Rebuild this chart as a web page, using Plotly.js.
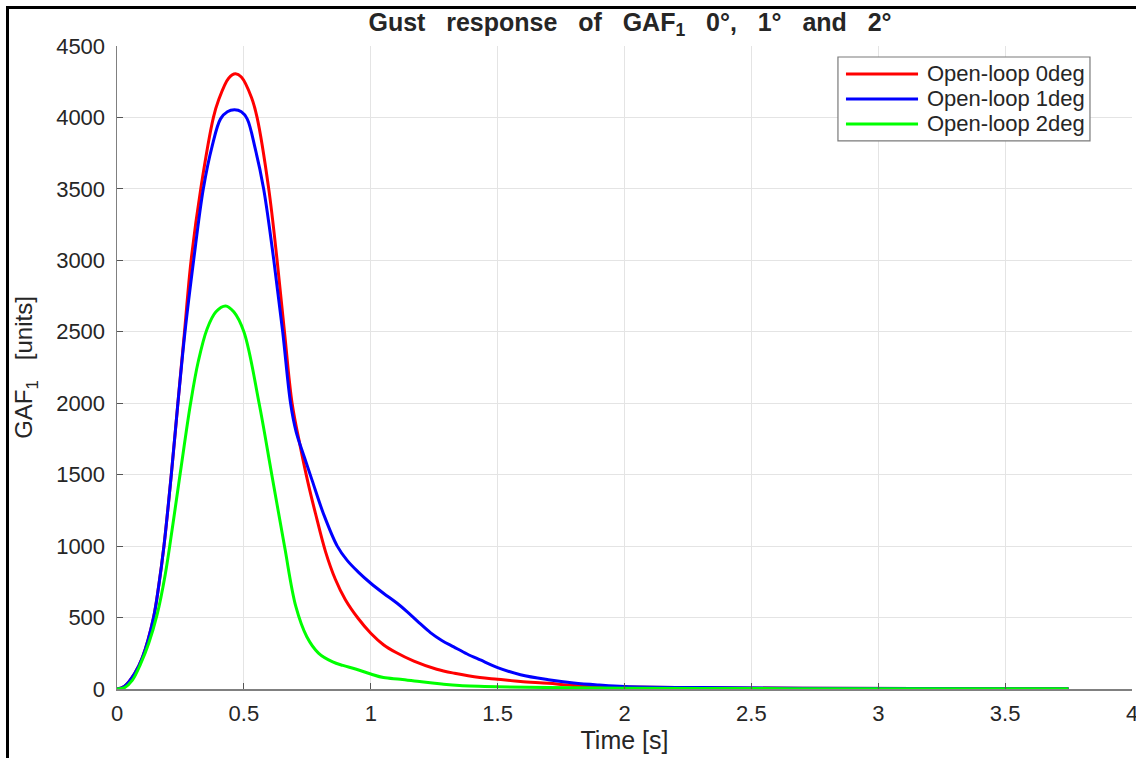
<!DOCTYPE html>
<html>
<head>
<meta charset="utf-8">
<script src="https://cdn.plot.ly/plotly-3.0.1.min.js"></script>
<style>
  html, body { margin: 0; padding: 0; background: #fff; }
  #wrap { position: relative; width: 1136px; height: 758px; overflow: hidden; }
  #chart { width: 1136px; height: 758px; }
  #frame { position: absolute; left: 6px; top: 6px; width: 1200px; height: 800px;
           border-top: 3px solid #000; border-left: 3px solid #000; pointer-events: none; }
</style>
</head>
<body>
<div id="wrap"><div id="chart"></div><div id="frame"></div></div>
<script>
// Open-loop 0deg (red)
const tRed = [0, 0.03, 0.07, 0.1, 0.144, 0.165, 0.185, 0.214, 0.24, 0.266, 0.292, 0.33, 0.38, 0.40, 0.44, 0.467, 0.49, 0.53, 0.552, 0.598, 0.631, 0.66, 0.69, 0.722, 0.752, 0.782, 0.822, 0.86, 0.9, 0.95, 1.0, 1.05, 1.1, 1.17, 1.26, 1.33, 1.43, 1.5, 1.59, 1.7, 1.8, 2.0, 2.3, 2.7, 3.2, 3.75];
const vRed = [0, 20, 110, 220, 500, 730, 1000, 1500, 2000, 2500, 3000, 3500, 4000, 4120, 4275, 4305, 4283, 4140, 4000, 3500, 3000, 2500, 2000, 1700, 1450, 1230, 960, 770, 625, 495, 390, 310, 255, 195, 138, 110, 80, 68, 52, 40, 25, 14, 8, 5, 3, 2];
// Open-loop 1deg (blue)
const tBlue = [0, 0.03, 0.07, 0.1, 0.144, 0.165, 0.185, 0.214, 0.24, 0.268, 0.302, 0.34, 0.375, 0.408, 0.435, 0.463, 0.49, 0.513, 0.545, 0.578, 0.618, 0.653, 0.684, 0.706, 0.735, 0.769, 0.815, 0.868, 0.907, 0.95, 1.0, 1.05, 1.104, 1.144, 1.19, 1.235, 1.28, 1.327, 1.38, 1.432, 1.5, 1.59, 1.7, 1.8, 1.9, 2.0, 2.3, 2.7, 3.2, 3.75];
const vBlue = [0, 20, 110, 220, 500, 730, 1000, 1500, 2000, 2500, 3000, 3500, 3800, 3990, 4040, 4053, 4040, 3990, 3780, 3500, 3000, 2500, 2000, 1800, 1640, 1460, 1220, 1000, 900, 820, 740, 670, 600, 540, 465, 395, 340, 295, 245, 203, 150, 100, 65, 42, 28, 18, 10, 6, 3, 2];
// Open-loop 2deg (green)
const tGreen = [0, 0.03, 0.06, 0.093, 0.125, 0.158, 0.19, 0.22, 0.25, 0.29, 0.32, 0.355, 0.39, 0.428, 0.46, 0.5, 0.56, 0.61, 0.66, 0.705, 0.748, 0.795, 0.85, 0.89, 0.94, 1.0, 1.05, 1.117, 1.2, 1.28, 1.35, 1.5, 1.7, 2.0, 2.5, 3.0, 3.75];
const vGreen = [0, 10, 60, 175, 320, 520, 800, 1150, 1520, 2000, 2290, 2520, 2640, 2681, 2640, 2500, 2000, 1500, 1000, 576, 366, 250, 190, 165, 140, 105, 80, 68, 50, 35, 25, 16, 10, 5, 3, 2, 1];

const seriesNames = ["Open-loop 0deg", "Open-loop 1deg", "Open-loop 2deg"];
const seriesColors = ['#ff0000', '#0000ff', '#00ff00'];
const xTicks = [0, 0.5, 1, 1.5, 2, 2.5, 3, 3.5, 4];
const yTicks = [0, 500, 1000, 1500, 2000, 2500, 3000, 3500, 4000, 4500];

const FONT = '"Liberation Sans", Arial, Helvetica, sans-serif';
const mk = (x, y, name, color) => ({
  x: x, y: y, name: name, type: 'scatter', mode: 'lines',
  line: { color: color, width: 3, shape: 'spline', smoothing: 1 }
});

const data = [
  mk(tRed, vRed, seriesNames[0], seriesColors[0]),
  mk(tBlue, vBlue, seriesNames[1], seriesColors[1]),
  mk(tGreen, vGreen, seriesNames[2], seriesColors[2])
];

const axisCommon = {
  showline: true, linecolor: '#808080', linewidth: 1.5,
  showgrid: true, gridcolor: '#e4e4e4', gridwidth: 1,
  zeroline: false, ticks: 'inside', ticklen: 6, tickcolor: '#555',
  tickfont: { family: FONT, size: 22, color: '#262626' },
  ticklabeloverflow: 'allow',
  mirror: false
};

// Legend drawn as a box in paper coordinates
const legBox = { x0: 0.7103, x1: 0.9586, y0: 0.8523, y1: 0.9829 };
const legRowsY = [0.9565, 0.9176, 0.8787];
const shapes = [{
  type: 'rect', xref: 'paper', yref: 'paper', layer: 'above',
  x0: legBox.x0, x1: legBox.x1, y0: legBox.y0, y1: legBox.y1,
  fillcolor: '#ffffff', line: { color: '#7a7a7a', width: 1.2 }
}];
const annotations = [];
seriesNames.forEach((n, i) => {
  shapes.push({
    type: 'line', xref: 'paper', yref: 'paper', layer: 'above',
    x0: 0.7182, x1: 0.7892, y0: legRowsY[i], y1: legRowsY[i],
    line: { color: seriesColors[i], width: 3 }
  });
  annotations.push({
    xref: 'paper', yref: 'paper', x: 0.7961, y: legRowsY[i],
    xanchor: 'left', yanchor: 'middle', showarrow: false, text: n,
    font: { family: FONT, size: 22, color: '#262626' }
  });
});

const layout = {
  width: 1136, height: 758,
  margin: { l: 117, r: 4, t: 46, b: 69 },
  paper_bgcolor: '#fff', plot_bgcolor: '#fff',
  font: { family: FONT, color: '#262626' },
  title: {
    text: '<b>Gust&nbsp;&nbsp; response&nbsp;&nbsp; of&nbsp;&nbsp; GAF<sub>1</sub>&nbsp;&nbsp; 0°,&nbsp;&nbsp; 1°&nbsp;&nbsp; and&nbsp;&nbsp; 2°</b>',
    font: { family: FONT, size: 25, color: '#262626' },
    x: 0.5546, xanchor: 'center', y: 0.971, yanchor: 'middle'
  },
  xaxis: Object.assign({}, axisCommon, {
    range: [0, 4], tickvals: xTicks, ticktext: xTicks.map(String),
    ticklabelstandoff: 4,
    title: { text: 'Time [s]', font: { family: FONT, size: 25, color: '#262626' }, standoff: 4 }
  }),
  yaxis: Object.assign({}, axisCommon, {
    range: [0, 4500], tickvals: yTicks, ticktext: yTicks.map(String),
    ticklabelstandoff: 6,
    title: { text: 'GAF<sub>1</sub>&nbsp;&nbsp; [units]', font: { family: FONT, size: 24, color: '#262626' }, standoff: 16 }
  }),
  shapes: shapes,
  annotations: annotations,
  showlegend: false
};

Plotly.newPlot('chart', data, layout, { displayModeBar: false, staticPlot: true });
</script>
</body>
</html>
